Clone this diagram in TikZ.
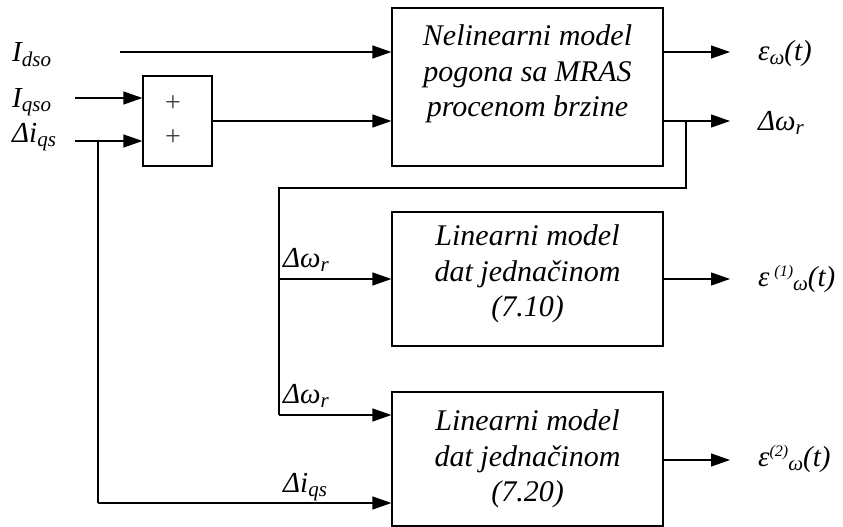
\documentclass[tikz,border=0pt]{standalone}
\usepackage{fontspec}
\setmainfont{Liberation Serif}
\usetikzlibrary{arrows.meta}
\newcommand\sbs[1]{\raisebox{-4.5pt}{\fontsize{21}{21}\selectfont #1}}
\newcommand\sps[1]{\raisebox{10pt}{\fontsize{16}{16}\selectfont #1}}
\begin{document}
\begin{tikzpicture}[x=1pt,y=-1pt,
  blk/.style={draw,line width=1.2pt,rectangle,inner sep=0pt},
  wire/.style={line width=1.2pt},
  arr/.style={line width=1.2pt,-{Triangle[length=19pt,width=13pt]}},
  boxtext/.style={align=center,inner sep=0pt,font=\fontsize{30}{35.5}\selectfont\itshape},
  lab/.style={inner sep=0pt,font=\fontsize{29}{34}\selectfont\itshape},
  plus/.style={inner sep=0pt,font=\fontsize{28}{30}\selectfont,text=black!75}
]
\useasboundingbox (0,0) rectangle (843,527);
% blocks
\node[blk,minimum width=271pt,minimum height=158pt] (main) at (527.5,87) {};
\node[blk,minimum width=69pt,minimum height=90pt] (sum) at (177.5,121) {};
\node[blk,minimum width=271pt,minimum height=134pt] (lin1) at (527.5,279) {};
\node[blk,minimum width=271pt,minimum height=134pt] (lin2) at (527.5,459) {};
% texts in blocks
\node[boxtext,anchor=north] (tmain) at (527.5,24.5) {Nelinearni model\\pogona sa MRAS\\procenom brzine};
\node[boxtext,anchor=north] (tlin1) at (527.5,224.5) {Linearni model\\dat jednačinom\\(7.10)};
\node[boxtext,anchor=north] (tlin2) at (527.5,409.5) {Linearni model\\dat jednačinom\\(7.20)};
\node[plus] (p1) at (173,104) {+};
\node[plus] (p2) at (173,138) {+};
% left labels
\node[lab,anchor=base west] (lidso) at (12,62) {I\sbs{dso}};
\node[lab,anchor=base west] (liqso) at (12,107) {I\sbs{qso}};
\node[lab,anchor=base west] (ldiqs) at (12,142) {Δi\sbs{qs}};
% right labels
\node[lab,anchor=base west] (leps) at (758,60) {ε\sbs{ω}(t)};
\node[lab,anchor=base west] (ldw) at (758,130) {Δω\sbs{r}};
\node[lab,anchor=base west] (leps1) at (758,286) {ε\,\sps{(1)}\sbs{ω}(t)};
\node[lab,anchor=base west] (leps2) at (758,466) {ε\sps{(2)}\sbs{ω}(t)};
% inner labels
\node[lab,anchor=base west] (ldw1) at (283,267) {Δω\sbs{r}};
\node[lab,anchor=base west] (ldw2) at (283,403) {Δω\sbs{r}};
\node[lab,anchor=base west] (ldiqs2) at (283,492) {Δi\sbs{qs}};
% coordinates
\coordinate (cidso) at (120,52);
\coordinate (ciqso) at (75,98);
\coordinate (cdiqs) at (75,141);
\coordinate (jdiqs) at (98,141);
\coordinate (o1) at (730,52);
\coordinate (o2) at (730,121);
\coordinate (o3) at (730,279);
\coordinate (o4) at (730,460);
\coordinate (jfb) at (686,121);
\coordinate (fb1) at (686,188);
\coordinate (fb2) at (279,188);
\coordinate (b1) at (279,279);
\coordinate (b2) at (279,415);
\coordinate (bi) at (98,503);
% connectors
\draw[arr] (cidso) -- (cidso -| main.west);
\draw[arr] (ciqso) -- (ciqso -| sum.west);
\draw[arr] (cdiqs) -- (cdiqs -| sum.west);
\draw[arr] (sum.east) -- (sum.east -| main.west);
\draw[arr] (o1 -| main.east) -- (o1);
\draw[arr] (o2 -| main.east) -- (o2);
\draw[arr] (o3 -| lin1.east) -- (o3);
\draw[arr] (o4 -| lin2.east) -- (o4);
\draw[wire] (jfb) -- (fb1) -- (fb2) -- (b2);
\draw[arr] (b1) -- (b1 -| lin1.west);
\draw[arr] (b2) -- (b2 -| lin2.west);
\draw[wire] (jdiqs) -- (bi);
\draw[arr] (bi) -- (bi -| lin2.west);
\end{tikzpicture}
\end{document}
